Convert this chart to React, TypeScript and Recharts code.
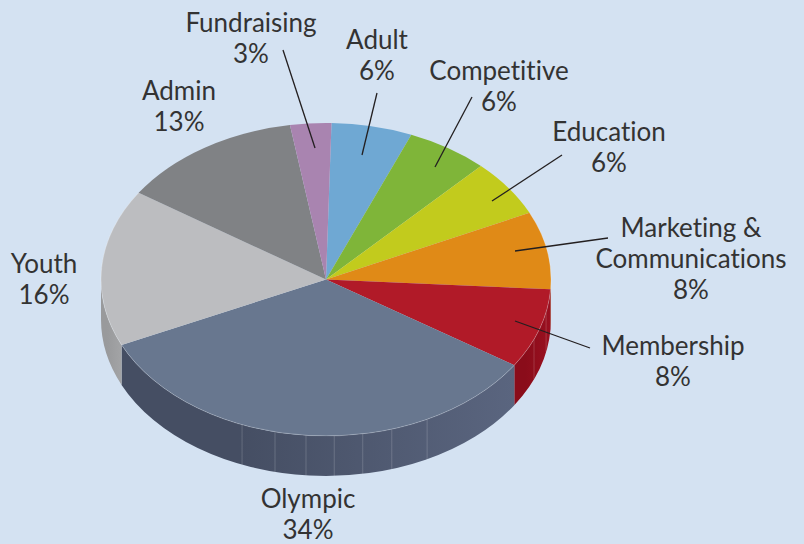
import React from "react";
import { PieChart, Pie, Cell } from "recharts";

const categories = ["Adult", "Competitive", "Education", "Marketing & Communications", "Membership", "Olympic", "Youth", "Admin", "Fundraising"];
const shares = [5.8, 5.9, 5.9, 8, 8.23, 33.92, 16.2, 13.1, 2.95];
const topColors = ["#6fa8d3", "#7fb539", "#c2cb1d", "#e08a17", "#b11a28", "#68778f", "#bcbdc0", "#808285", "#a984b0"];
const wallFrom = ["#5a86aa", "#66912e", "#9aa118", "#b06c10", "#8a0c1a", "#454e63", "#999a9c", "#666", "#876a8c"];
const wallTo = ["#5a86aa", "#66912e", "#9aa118", "#c07410", "#9a1020", "#5a657f", "#a3a4a6", "#666", "#876a8c"];

// Layout of the labels and leader lines (pixels)
const labelLines = [["Adult", "6%"], ["Competitive", "6%"], ["Education", "6%"], ["Marketing &", "Communications", "8%"], ["Membership", "8%"], ["Olympic", "34%"], ["Youth", "16%"], ["Admin", "13%"], ["Fundraising", "3%"]];
const labelX = [377, 499, 609, 691, 673, 308, 44, 179, 251];
const labelY = [49, 80, 141, 237, 355, 508, 273, 100, 32];
const leaders: (number[] | null)[] = [
  [377, 93, 362, 155], [472, 97, 435, 167], [562, 155, 492, 201], [608, 238, 515, 251],
  [590, 348, 515, 321], null, null, null, [283, 50, 315, 148],
];

const W = 804, H = 544, CX = 326, CY = 279.5, RX = 225, RY = 156.5, DEPTH = 40, LINE = 31;
const FONT = "Lato, 'Open Sans', sans-serif";
const FACETS = [-21.9, -13.1, -5.1, 2.1, 9.4, 17, 26.7, 67.6, 78];

const rad = (a: number) => (a * Math.PI) / 180;
const px = (a: number) => CX + RX * Math.cos(rad(a));
const py = (a: number) => CY - RY * Math.sin(rad(a));

function Slice(props: any) {
  const { startAngle: sa, endAngle: ea, index: propIndex, payload } = props;
  const index = propIndex ?? categories.indexOf(payload?.name);
  const s = Math.max(sa, ea);
  const e = Math.min(sa, ea);
  const large = s - e > 180 ? 1 : 0;
  const top = `M${CX},${CY} L${px(s)},${py(s)} A${RX},${RY} 0 ${large} 1 ${px(e)},${py(e)} Z`;
  const rim = `M${px(s)},${py(s)} A${RX},${RY} 0 ${large} 1 ${px(e)},${py(e)}`;
  const a1 = Math.min(s, 0);
  const a2 = Math.max(e, -180);
  const hasWall = a1 > a2;
  const gid = `wall-${index}`;
  const wall = hasWall
    ? `M${px(a1)},${py(a1)} A${RX},${RY} 0 0 1 ${px(a2)},${py(a2)} L${px(a2)},${py(a2) + DEPTH} A${RX},${RY} 0 0 0 ${px(a1)},${py(a1) + DEPTH} Z`
    : "";
  const facetLines = hasWall
    ? FACETS.map((t) => t - 90).filter((a) => a < a1 - 0.5 && a > a2 + 0.5)
    : [];
  return (
    <g>
      {hasWall && (
        <>
          <defs>
            <linearGradient id={gid} gradientUnits="userSpaceOnUse" x1={px(a2)} x2={px(a1)} y1={0} y2={0}>
              <stop offset="0.3" stopColor={wallFrom[index]} />
              <stop offset="1" stopColor={wallTo[index]} />
            </linearGradient>
          </defs>
          <path d={wall} fill={`url(#${gid})`} />
          {facetLines.map((a) => (
            <line key={a} x1={px(a)} x2={px(a)} y1={py(a)} y2={py(a) + DEPTH} stroke="#ffffff" strokeOpacity={0.22} strokeWidth={0.8} />
          ))}
        </>
      )}
      <path d={top} fill={topColors[index]} />
      {hasWall && <path d={rim} fill="none" stroke="#ffffff" strokeOpacity={0.3} strokeWidth={0.8} />}
    </g>
  );
}

function SliceLabel(props: any) {
  const i = props.index;
  const seg = leaders[i];
  return (
    <g>
      {seg && <line x1={seg[0]} y1={seg[1]} x2={seg[2]} y2={seg[3]} stroke="#231f20" strokeWidth={1.3} />}
      <text x={labelX[i]} y={labelY[i]} textAnchor="middle" fontFamily={FONT} fontSize={26} fill="#333333" style={{ fontVariantLigatures: "none" }}>
        {labelLines[i].map((t, k) => (
          <tspan key={k} x={labelX[i]} y={labelY[i] + k * LINE}>{t}</tspan>
        ))}
      </text>
    </g>
  );
}

const rows = categories.map((name, i) => ({ name, value: shares[i] }));

export default function App() {
  return (
    <div style={{ position: "absolute", left: 0, top: 0, width: W, height: H, background: "#d4e2f2", overflow: "hidden" }}>
      <PieChart width={W} height={H} margin={{ top: 0, right: 0, bottom: 0, left: 0 }}>
        <Pie
          data={rows}
          dataKey="value"
          nameKey="name"
          cx={CX}
          cy={CY}
          innerRadius={0}
          outerRadius={RX}
          startAngle={88.6}
          endAngle={-271.4}
          stroke="none"
          paddingAngle={0}
          isAnimationActive={false}
          shape={Slice}
          inactiveShape={Slice}
          label={SliceLabel}
          labelLine={false}
        >
          {rows.map((r, i) => (
            <Cell key={r.name} fill={topColors[i]} />
          ))}
        </Pie>
      </PieChart>
    </div>
  );
}
